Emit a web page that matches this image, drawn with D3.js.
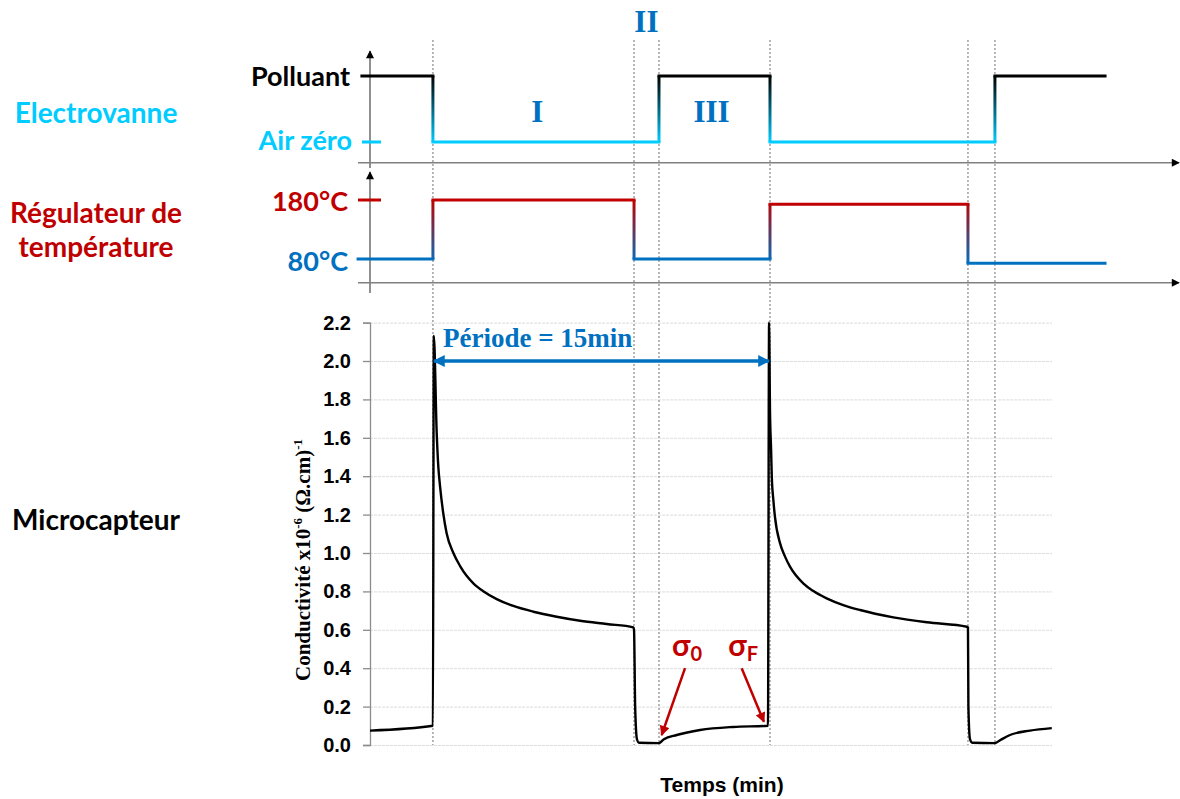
<!DOCTYPE html>
<html><head><meta charset="utf-8">
<script src="https://cdn.jsdelivr.net/npm/d3@7"></script>
<style>body{margin:0;background:#fff}</style>
</head><body>
<svg id="c" width="1180" height="799"></svg>
<script>
// ---------- data ----------
const sensorTime = [0, 2.80, 2.84, 2.97, 3.04, 3.12, 3.26, 3.41, 3.71, 4.01,
  4.30, 4.60, 5.04, 5.64, 6.38, 7.27, 8.31, 9.35, 10.53, 11.72,
  11.75, 11.80, 11.88, 11.97, 12.86, 13.08, 13.65, 14.69, 16.15, 17.71,
  17.76, 17.80, 17.85, 17.88, 17.95, 18.02, 18.25, 18.47, 18.69, 19.28,
  19.73, 20.32, 21.06, 21.81, 23.29, 24.78, 26.56, 26.61, 26.63, 26.70,
  26.80, 27.81, 28.04, 28.48, 29.37, 30.34];
const sensorValue = [0.075, 0.10, 2.13, 1.62, 1.45, 1.345, 1.207, 1.103, 1.0, 0.932,
  0.881, 0.842, 0.801, 0.760, 0.724, 0.694, 0.668, 0.647, 0.630, 0.613,
  0.60, 0.20, 0.03, 0.012, 0.01, 0.03, 0.052, 0.078, 0.094, 0.10,
  2.20, 1.745, 1.536, 1.398, 1.276, 1.189, 1.050, 0.981, 0.929, 0.842,
  0.802, 0.764, 0.729, 0.703, 0.665, 0.639, 0.616, 0.612, 0.20, 0.03,
  0.012, 0.01, 0.025, 0.052, 0.075, 0.088];
const valveSwitchTimes = [-0.36, 2.80, 12.86, 17.80, 27.81, 32.71];
const valveStates = ["Polluant", "Air zéro", "Polluant", "Air zéro", "Polluant"];
const valveLevels = ["Air zéro", "Polluant"];
const tempSwitchTimes = [-0.53, 2.80, 11.75, 17.80, 26.61, 32.71];
const tempValues = [80, 180, 80, 173, 73];
const tempLevels = [80, 180];
const tempLevelLabels = ["80°C", "180°C"];
const phaseBoundaries = [2.80, 11.75, 12.86, 17.80, 26.61, 27.81];
const phaseLabels = ["I", "II", "III"];
const phaseLabelTimes = [7.45, 12.30, 15.20];
const yTicks = [0, 0.2, 0.4, 0.6, 0.8, 1.0, 1.2, 1.4, 1.6, 1.8, 2.0, 2.2];
const periodRange = [2.80, 17.80];
const periodLabel = "Période = 15min";

// ---------- colours ----------
const CYAN = "#00CCFF", RED = "#C00000", BLUE = "#0070C0";
const SANS = "Lato, 'Open Sans', sans-serif";
const ARIAL = "'Liberation Sans', Arial, sans-serif";
const SERIF = "'Liberation Serif', 'Times New Roman', serif";

const svg = d3.select("#c");
const defs = svg.append("defs");

function marker(id, color, w, h) {
  defs.append("marker").attr("id", id)
    .attr("viewBox", "0 0 10 10").attr("refX", 9).attr("refY", 5)
    .attr("markerUnits", "userSpaceOnUse")
    .attr("markerWidth", w).attr("markerHeight", h)
    .attr("orient", "auto-start-reverse")
    .append("path").attr("d", "M0,0L10,5L0,10z").attr("fill", color);
}
marker("axArrow", "#000", 9, 8);
marker("blueArrow", BLUE, 13, 12);
marker("redArrow", RED, 11, 10);

// ---------- scales ----------
const x = d3.scaleLinear().domain([0, 30.35]).range([370, 1052]);
const yV = d3.scalePoint().domain(valveLevels).range([142, 76]);
const yT = d3.scaleLinear().domain([80, 180]).range([259, 200]);
const yC = d3.scaleLinear().domain([0, 2.2]).range([745, 322.6]);

function grad(id, y1, y2, c1, c2) {
  const g = defs.append("linearGradient").attr("id", id)
    .attr("gradientUnits", "userSpaceOnUse")
    .attr("x1", 0).attr("x2", 0).attr("y1", y1).attr("y2", y2);
  g.append("stop").attr("offset", "0%").attr("stop-color", c1);
  g.append("stop").attr("offset", "100%").attr("stop-color", c2);
}
grad("gValve", yV("Polluant"), yV("Air zéro"), "#000", CYAN);
grad("gTemp", yT(180), yT(73), RED, BLUE);

// ---------- chart gridlines ----------
const grid = svg.append("g").attr("transform", `translate(${x(0)},0)`)
  .call(d3.axisLeft(yC).tickValues(yTicks).tickSize(-(x(30.35) - x(0))).tickFormat(""));
grid.select(".domain").remove();
grid.selectAll("line").attr("stroke", "#dcdcdc").attr("stroke-width", 1).attr("stroke-dasharray", "3,1");

// ---------- dotted phase lines ----------
svg.append("g").selectAll("line").data(phaseBoundaries).join("line")
  .attr("x1", d => x(d)).attr("x2", d => x(d))
  .attr("y1", 40).attr("y2", yC(0))
  .attr("stroke", "#a6a6a6").attr("stroke-width", 1.6).attr("stroke-dasharray", "2,2");

// ---------- top panel axes ----------
const axG = svg.append("g");
axG.append("line").attr("x1", 370).attr("x2", 370).attr("y1", 168).attr("y2", 51)
  .attr("stroke", "#555").attr("stroke-width", 1.3).attr("marker-end", "url(#axArrow)");
axG.append("line").attr("x1", 370).attr("x2", 370).attr("y1", 293).attr("y2", 172)
  .attr("stroke", "#555").attr("stroke-width", 1.3).attr("marker-end", "url(#axArrow)");
[162.7, 282.7].forEach(yy => {
  axG.append("line").attr("x1", 358).attr("x2", 1179).attr("y1", yy).attr("y2", yy)
    .attr("stroke", "#808080").attr("stroke-width", 1.5).attr("marker-end", "url(#axArrow)");
});

// level ticks
svg.append("line").attr("x1", 362).attr("x2", 381).attr("y1", yV("Air zéro")).attr("y2", yV("Air zéro"))
  .attr("stroke", CYAN).attr("stroke-width", 3);
svg.append("line").attr("x1", 358).attr("x2", 381).attr("y1", yT(180)).attr("y2", yT(180))
  .attr("stroke", RED).attr("stroke-width", 3);

// ---------- valve signal ----------
const vG = svg.append("g").attr("fill", "none").attr("stroke-width", 3);
valveStates.forEach((s, i) => {
  vG.append("line").attr("x1", x(valveSwitchTimes[i])).attr("x2", x(valveSwitchTimes[i + 1]))
    .attr("y1", yV(s)).attr("y2", yV(s))
    .attr("stroke", s === "Polluant" ? "#000" : CYAN).attr("stroke-linecap", "square");
  if (i > 0) {
    vG.append("line").attr("x1", x(valveSwitchTimes[i])).attr("x2", x(valveSwitchTimes[i]))
      .attr("y1", yV(valveStates[i - 1])).attr("y2", yV(s))
      .attr("stroke", "url(#gValve)");
  }
});

// ---------- temperature signal ----------
const tG = svg.append("g").attr("fill", "none").attr("stroke-width", 3);
tempValues.forEach((v, i) => {
  tG.append("line").attr("x1", x(tempSwitchTimes[i])).attr("x2", x(tempSwitchTimes[i + 1]))
    .attr("y1", yT(v)).attr("y2", yT(v))
    .attr("stroke", v > 130 ? RED : BLUE).attr("stroke-linecap", "square");
  if (i > 0) {
    tG.append("line").attr("x1", x(tempSwitchTimes[i])).attr("x2", x(tempSwitchTimes[i]))
      .attr("y1", yT(tempValues[i - 1])).attr("y2", yT(v))
      .attr("stroke", "url(#gTemp)");
  }
});

// ---------- conductivity axis ----------
const yAx = svg.append("g").attr("transform", `translate(${x(0)},0)`)
  .call(d3.axisLeft(yC).tickValues(yTicks).tickSize(7).tickPadding(12).tickFormat(d3.format(".1f")));
yAx.select(".domain").attr("stroke", "#8c8c8c").attr("stroke-width", 1.3);
yAx.selectAll(".tick line").attr("stroke", "#8c8c8c").attr("stroke-width", 1.3);
yAx.selectAll("text").attr("font-family", ARIAL).attr("font-weight", "bold")
  .attr("font-size", 20).attr("fill", "#000");

// ---------- sensor curve ----------
const pts = sensorTime.map((t, i) => [t, sensorValue[i]]);
svg.append("path").datum(pts)
  .attr("d", d3.line().x(d => x(d[0])).y(d => yC(d[1])).curve(d3.curveMonotoneX))
  .attr("fill", "none").attr("stroke", "#000").attr("stroke-width", 2.4)
  .attr("stroke-linejoin", "round");

// ---------- period arrow ----------
svg.append("line")
  .attr("x1", x(periodRange[0]) + 1).attr("x2", x(periodRange[1]) - 1)
  .attr("y1", yC(2.0)).attr("y2", yC(2.0))
  .attr("stroke", BLUE).attr("stroke-width", 3.5)
  .attr("marker-start", "url(#blueArrow)").attr("marker-end", "url(#blueArrow)");
svg.append("text").attr("x", 443).attr("y", 347)
  .attr("font-family", SERIF).attr("font-weight", "bold").attr("font-size", 27)
  .attr("fill", BLUE).text(periodLabel);

// ---------- sigma annotations ----------
const sig = [
  {sub: "0", lx: 13.44, ly: 0.465, t0: [14.02, 0.40], t1: [12.98, 0.052]},
  {sub: "F", lx: 15.94, ly: 0.465, t0: [16.54, 0.40], t1: [17.53, 0.121]}
];
sig.forEach(s => {
  const tx = svg.append("text").attr("x", x(s.lx)).attr("y", yC(s.ly))
    .attr("font-family", SANS).attr("font-weight", "bold").attr("font-size", 30).attr("fill", RED);
  tx.append("tspan").text("σ");
  tx.append("tspan").attr("dy", 5).attr("font-size", 20).text(s.sub);
  svg.append("line").attr("x1", x(s.t0[0])).attr("y1", yC(s.t0[1]))
    .attr("x2", x(s.t1[0])).attr("y2", yC(s.t1[1]))
    .attr("stroke", RED).attr("stroke-width", 2.5).attr("marker-end", "url(#redArrow)");
});

// ---------- phase labels ----------
svg.append("g").selectAll("text").data(phaseLabels).join("text")
  .attr("x", (d, i) => x(phaseLabelTimes[i]))
  .attr("y", (d, i) => i === 1 ? 32 : 122)
  .attr("text-anchor", "middle").attr("font-family", SERIF).attr("font-weight", "bold")
  .attr("font-size", 31).attr("fill", BLUE).text(d => d);

// ---------- level labels ----------
function lbl(txt, xx, yy, color, size, anchor) {
  svg.append("text").attr("x", xx).attr("y", yy).attr("text-anchor", anchor || "end")
    .attr("font-family", SANS).attr("font-weight", "bold").attr("font-size", size || 27)
    .attr("fill", color).text(txt);
}
lbl("Polluant", 350, yV("Polluant") + 10, "#000");
lbl("Air zéro", 352, yV("Air zéro") + 8, CYAN);
lbl(tempLevelLabels[1], 348, yT(180) + 11, RED);
lbl(tempLevelLabels[0], 348, yT(80) + 12, BLUE);

// row titles
lbl("Electrovanne", 96, 123, CYAN, 28, "middle");
lbl("Régulateur de", 96, 223, RED, 28, "middle");
lbl("température", 96, 257, RED, 28, "middle");
lbl("Microcapteur", 96, 530, "#000", 28, "middle");

// ---------- axis titles ----------
svg.append("text").attr("x", 722).attr("y", 792).attr("text-anchor", "middle")
  .attr("font-family", ARIAL).attr("font-weight", "bold").attr("font-size", 21)
  .attr("fill", "#000").text("Temps (min)");

const yl = svg.append("text").attr("transform", "translate(310,560) rotate(-90)")
  .attr("text-anchor", "middle").attr("font-family", SERIF).attr("font-weight", "bold")
  .attr("font-size", 21).attr("fill", "#000");
yl.append("tspan").text("Conductivité x10");
yl.append("tspan").attr("dy", -8).attr("font-size", 13).text("-6");
yl.append("tspan").attr("dy", 8).text(" (Ω.cm)");
yl.append("tspan").attr("dy", -8).attr("font-size", 13).text("-1");
</script>
</body></html>
